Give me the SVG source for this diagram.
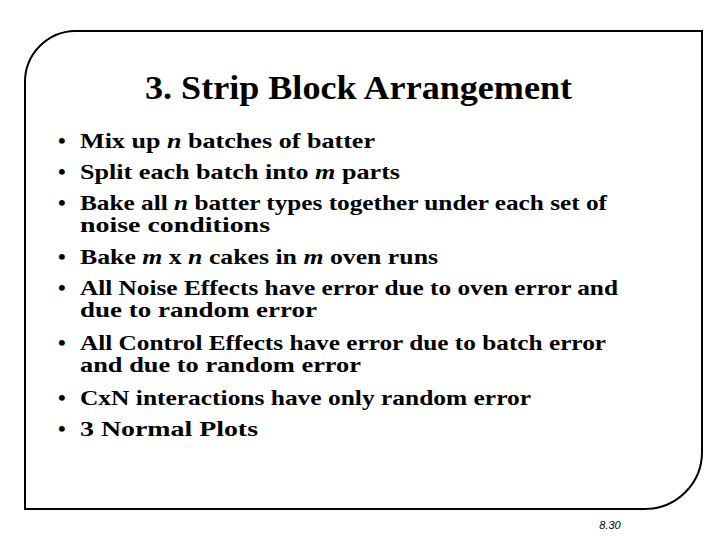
<svg xmlns="http://www.w3.org/2000/svg" width="720" height="540" viewBox="0 0 720 540">
<style>
.t,.b,.h{font-family:'Liberation Serif','Times New Roman','DejaVu Serif',serif;font-weight:bold;fill:#000}
.t,.b{font-size:22px}
.h{font-size:33px}
.p{font-family:'Liberation Sans',Arial,sans-serif;font-style:italic;font-size:11px}
</style>
<rect width="720" height="540" fill="#fff"/>
<g id="frame"><path d="M75,31 H702 V452 A57,57 0 0 1 645,509 H25 V82 A51,51 0 0 1 75,31 Z" fill="none" stroke="#000" stroke-width="2"/></g>
<g id="title"><text class="h" x="145" y="99" textLength="427" lengthAdjust="spacingAndGlyphs">3. Strip Block Arrangement</text></g>
<g id="bullets">
<text class="b" x="58" y="148">•</text><text class="t" x="80" y="148" textLength="295" lengthAdjust="spacingAndGlyphs">Mix up <tspan font-style="italic">n</tspan> batches of batter</text>
<text class="b" x="58" y="179">•</text><text class="t" x="80" y="179" textLength="320" lengthAdjust="spacingAndGlyphs">Split each batch into <tspan font-style="italic">m</tspan> parts</text>
<text class="b" x="58" y="210">•</text><text class="t" x="80" y="210" textLength="527" lengthAdjust="spacingAndGlyphs">Bake all <tspan font-style="italic">n</tspan> batter types together under each set of</text>
<text class="t" x="80" y="232" textLength="190" lengthAdjust="spacingAndGlyphs">noise conditions</text>
<text class="b" x="58" y="264">•</text><text class="t" x="80" y="264" textLength="358" lengthAdjust="spacingAndGlyphs">Bake <tspan font-style="italic">m</tspan> x <tspan font-style="italic">n</tspan> cakes in <tspan font-style="italic">m</tspan> oven runs</text>
<text class="b" x="58" y="295">•</text><text class="t" x="80" y="295" textLength="538" lengthAdjust="spacingAndGlyphs">All Noise Effects have error due to oven error and</text>
<text class="t" x="80" y="317" textLength="237" lengthAdjust="spacingAndGlyphs">due to random error</text>
<text class="b" x="58" y="350">•</text><text class="t" x="80" y="350" textLength="526" lengthAdjust="spacingAndGlyphs">All Control Effects have error due to batch error</text>
<text class="t" x="80" y="372" textLength="281" lengthAdjust="spacingAndGlyphs">and due to random error</text>
<text class="b" x="58" y="405">•</text><text class="t" x="80" y="405" textLength="451" lengthAdjust="spacingAndGlyphs">CxN interactions have only random error</text>
<text class="b" x="58" y="436">•</text><text class="t" x="80" y="436" textLength="178" lengthAdjust="spacingAndGlyphs">3 Normal Plots</text>
</g>
<g id="page"><text class="p" x="610" y="529" text-anchor="middle">8.30</text></g>
</svg>
